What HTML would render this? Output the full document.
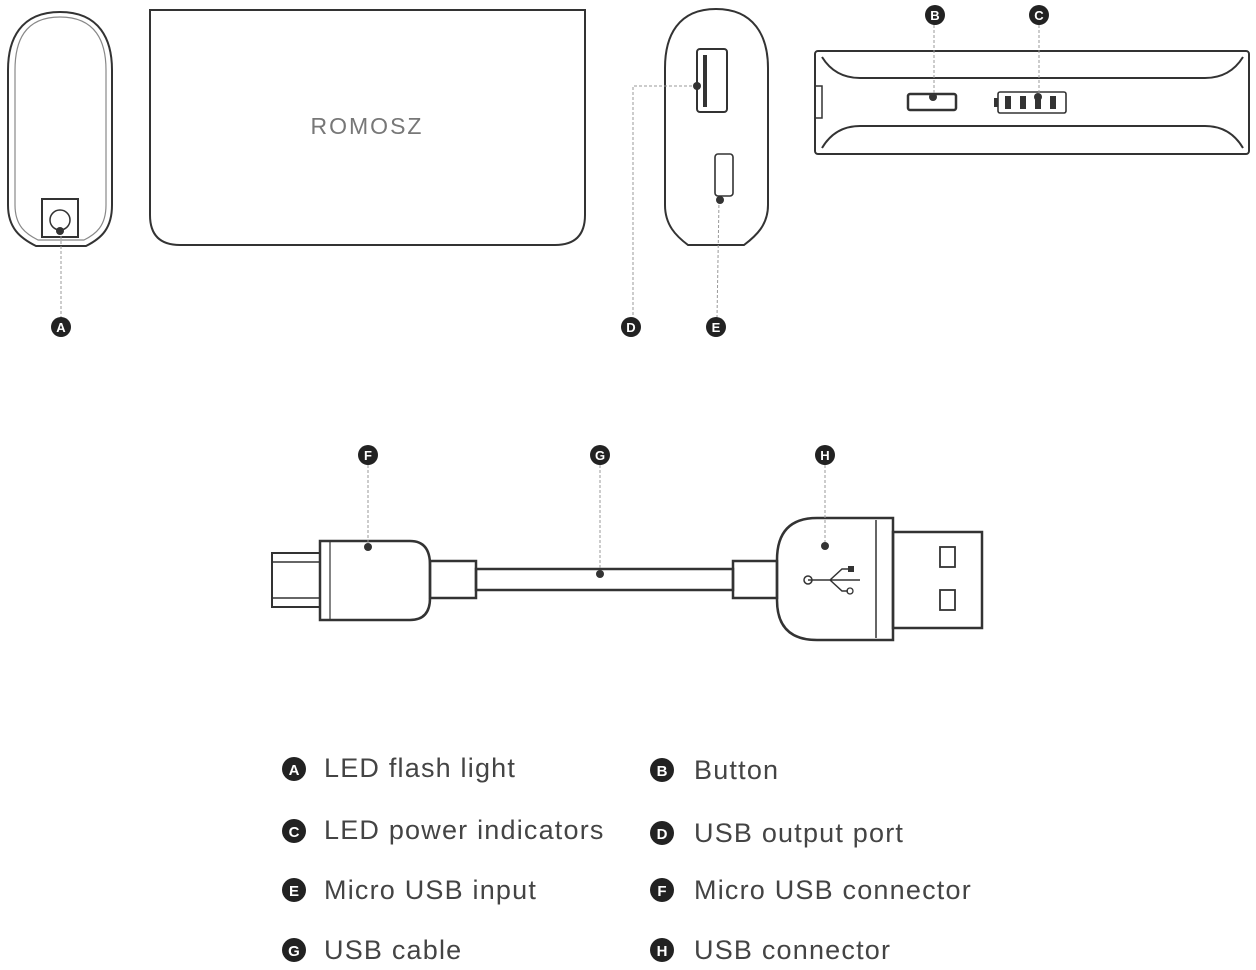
<!DOCTYPE html>
<html><head><style>body{margin:0;background:#fff}svg{display:block}</style></head><body>
<svg width="1256" height="970" viewBox="0 0 1256 970" xmlns="http://www.w3.org/2000/svg" font-family="Liberation Sans, sans-serif">
<g fill="none" stroke="#333" stroke-width="2">
<!-- left end -->
<path d="M60 12 C20 12 8 40 8 70 L8 205 C8 228 20 238 36 246 L86 246 C102 238 112 228 112 205 L112 70 C112 40 100 12 60 12 Z"/>
<path d="M60 17 C24 17 15 42 15 70 L15 205 C15 226 26 234 38 240 L84 240 C96 234 106 226 106 205 L106 70 C106 42 96 17 60 17 Z" stroke="#888" stroke-width="1.2"/>
<rect x="42" y="199" width="36" height="38"/>
<circle cx="60" cy="220" r="10" stroke-width="1.5"/>
<!-- main -->
<path d="M150 10 L585 10 L585 215 Q585 245 555 245 L180 245 Q150 245 150 215 Z"/>
<!-- right end -->
<path d="M716 9 C678 9 665 36 665 68 L665 205 C665 225 676 236 688 245 L744 245 C756 236 768 225 768 205 L768 68 C768 36 754 9 716 9 Z"/>
<rect x="697" y="49" width="30" height="63" rx="3"/>
<rect x="703" y="55" width="4" height="52" fill="#333" stroke="none"/>
<rect x="715" y="154" width="18" height="42" rx="3" stroke-width="1.6"/>
<!-- side -->
<rect x="815" y="51" width="434" height="103" rx="3"/>
<path d="M822 57 Q835 78 860 78 L1205 78 Q1230 78 1243 57" />
<path d="M822 148 Q835 126 860 126 L1205 126 Q1230 126 1243 148" />
<path d="M815 86 L822 86 L822 118 L815 118" stroke-width="1.5"/>
<rect x="908" y="94" width="48" height="16" rx="2" stroke-width="2.5"/>
<rect x="998" y="92" width="68" height="21" rx="2" stroke-width="1.6"/>
<!-- cable -->
<rect x="272" y="553" width="48" height="54" stroke-width="2"/>
<line x1="272" y1="562" x2="320" y2="562" stroke-width="1.5"/>
<line x1="272" y1="598" x2="320" y2="598" stroke-width="1.5"/>
<path d="M320 541 L410 541 Q430 541 430 565 L430 598 Q430 620 410 620 L320 620 Z" stroke-width="2.5"/>
<line x1="330" y1="541" x2="330" y2="620" stroke-width="1.2"/>
<rect x="430" y="561" width="46" height="37" stroke-width="2.5"/>
<rect x="476" y="569" width="257" height="21" stroke-width="2.5"/>
<rect x="733" y="561" width="44" height="37" stroke-width="2.5"/>
<path d="M893 518 L817 518 Q777 518 777 560 L777 600 Q777 640 817 640 L893 640 Z" stroke-width="2.5"/>
<line x1="876" y1="520" x2="876" y2="638" stroke-width="1.5"/>
<rect x="893" y="532" width="89" height="96" stroke-width="2.5"/>
<rect x="940" y="547" width="15" height="20" stroke-width="1.8"/>
<rect x="940" y="590" width="15" height="20" stroke-width="1.8"/>
<path d="M808 580 L860 580 M830 580 L842 569 L848 569 M830 580 L842 591 L848 591" stroke-width="1.5"/>
<circle cx="808" cy="580" r="4" stroke-width="1.5"/>
<circle cx="850" cy="591" r="3" stroke-width="1.3"/>
</g>
<g fill="#333">
<rect x="1005" y="96" width="6" height="13"/><rect x="1020" y="96" width="6" height="13"/><rect x="1035" y="96" width="6" height="13"/><rect x="1050" y="96" width="6" height="13"/>
<rect x="994" y="98" width="4" height="9"/>
<rect x="848" y="566" width="6" height="6"/>
<text x="367" y="134" font-size="23" fill="#777" stroke="none" text-anchor="middle" letter-spacing="2">ROMOSZ</text>
</g>
<g stroke="#999" stroke-width="1" stroke-dasharray="3,2" fill="none">
<path d="M61 231 L61 318"/>
<path d="M697 86 L633 86 L633 318"/>
<path d="M719 200 L717 318"/>
<path d="M934 25 L934 97"/>
<path d="M1039 25 L1039 98"/>
<path d="M368 465 L368 547"/>
<path d="M600 465 L600 573"/>
<path d="M825 465 L825 546"/>
</g>
<g fill="#333">
<circle cx="60" cy="231" r="4"/><circle cx="697" cy="86" r="4"/><circle cx="720" cy="200" r="4"/>
<circle cx="933" cy="97" r="4"/><circle cx="1038" cy="97" r="4"/>
<circle cx="368" cy="547" r="4"/><circle cx="600" cy="574" r="4"/><circle cx="825" cy="546" r="4"/>
</g>
<g font-weight="bold" font-size="13" text-anchor="middle">
<g fill="#222">
<circle cx="61" cy="327" r="10"/><circle cx="631" cy="327" r="10"/><circle cx="716" cy="327" r="10"/>
<circle cx="935" cy="15" r="10"/><circle cx="1039" cy="15" r="10"/>
<circle cx="368" cy="455" r="10"/><circle cx="600" cy="455" r="10"/><circle cx="825" cy="455" r="10"/>
<circle cx="294" cy="769" r="12"/><circle cx="294" cy="831" r="12"/><circle cx="294" cy="890" r="12"/><circle cx="294" cy="950" r="12"/>
<circle cx="662" cy="770" r="12"/><circle cx="662" cy="833" r="12"/><circle cx="662" cy="890" r="12"/><circle cx="662" cy="950" r="12"/>
</g>
<g fill="#fff">
<text x="61" y="332">A</text><text x="631" y="332">D</text><text x="716" y="332">E</text>
<text x="935" y="20">B</text><text x="1039" y="20">C</text>
<text x="368" y="460">F</text><text x="600" y="460">G</text><text x="825" y="460">H</text>
<g font-size="15">
<text x="294" y="775">A</text><text x="294" y="837">C</text><text x="294" y="896">E</text><text x="294" y="956">G</text>
<text x="662" y="776">B</text><text x="662" y="839">D</text><text x="662" y="896">F</text><text x="662" y="956">H</text>
</g>
</g>
</g>
<g font-size="27" fill="#444" letter-spacing="1.2">
<text x="324" y="777">LED flash light</text>
<text x="324" y="839">LED power indicators</text>
<text x="324" y="899">Micro USB input</text>
<text x="324" y="959">USB cable</text>
<text x="694" y="779">Button</text>
<text x="694" y="842">USB output port</text>
<text x="694" y="899">Micro USB connector</text>
<text x="694" y="959">USB connector</text>
</g>
</svg>
</body></html>
